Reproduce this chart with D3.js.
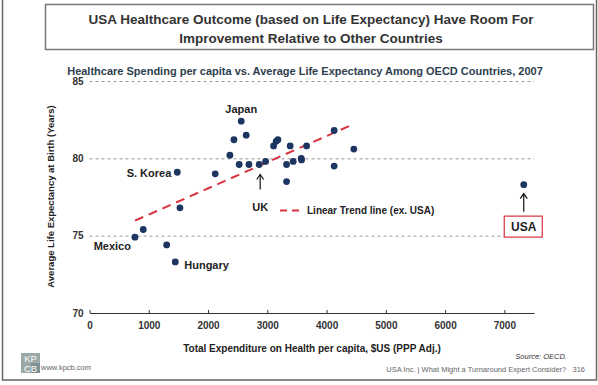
<!DOCTYPE html>
<html lang="en">
<head>
  <meta charset="utf-8">
  <title>USA Healthcare Outcome</title>
  <script src="https://cdn.jsdelivr.net/npm/d3@7"></script>
  <style>
    body { margin: 0; background: #fff; }
    svg { font-family: "Liberation Sans", Arial, sans-serif; }
  </style>
</head>
<body>
<script>
  // spending per capita ($US PPP) and life expectancy
  var spend = [2560, 2437, 2644, 2369, 2526, 2690, 2121, 2863, 2971, 3106, 3150, 3179, 3386, 3325,
               3325, 3437, 3572, 3578, 3663, 4128, 4128, 4460, 1481, 1526, 907, 767, 1302, 1447, 7327];
  var life = [82.4, 81.2, 81.5, 80.2, 79.6, 79.6, 79.0, 79.6, 79.8, 80.8, 81.1, 81.2, 80.8, 79.6,
              78.5, 79.8, 80.0, 79.9, 80.8, 81.8, 79.5, 80.6, 79.1, 76.8, 75.4, 74.9, 74.4, 73.3, 78.3];
  var country = ["Japan", "", "", "", "", "", "", "UK", "", "", "", "", "", "",
                 "", "", "", "", "", "", "", "", "S. Korea", "", "", "Mexico", "", "Hungary", "USA"];

  // trend line ex. USA (two end points)
  var trendX = [767, 4460];
  var trendY = [75.97, 82.22];

  var xTicks = [0, 1000, 2000, 3000, 4000, 5000, 6000, 7000];
  var yTicks = [70, 75, 80, 85];

  var w = 598, h = 385;

  var svg = d3.select("body").append("svg")
    .attr("width", w)
    .attr("height", h);

  // slide frame
  svg.append("rect")
    .attr("x", 2.5).attr("y", -2)
    .attr("width", 594).attr("height", 382)
    .attr("fill", "none")
    .attr("stroke", "#666")
    .attr("stroke-width", 1.5);

  // title box
  svg.append("rect")
    .attr("x", 45.5).attr("y", 4.5)
    .attr("width", 548).attr("height", 45)
    .attr("fill", "#fff")
    .attr("stroke", "#777")
    .attr("stroke-width", 1.5);

  var title = ["USA Healthcare Outcome (based on Life Expectancy) Have Room For",
               "Improvement Relative to Other Countries"];
  svg.selectAll(".title").data(title).enter().append("text")
    .attr("x", 311)
    .attr("y", function(d, i) { return 24 + i * 19; })
    .attr("text-anchor", "middle")
    .attr("font-size", 13.5)
    .attr("font-weight", "bold")
    .attr("fill", "#333")
    .text(function(d) { return d; });

  svg.append("text")
    .attr("x", 305).attr("y", 75)
    .attr("text-anchor", "middle")
    .attr("font-size", 11)
    .attr("font-weight", "bold")
    .attr("fill", "#2d3e4e")
    .text("Healthcare Spending per capita vs. Average Life Expectancy Among OECD Countries, 2007");

  var x = d3.scaleLinear().domain([0, 7500]).range([89.5, 534]);
  var y = d3.scaleLinear().domain([70, 85]).range([313, 81]);

  // y axis: labels plus dashed grid lines
  var yAxis = svg.append("g")
    .attr("transform", "translate(" + x(0) + ",0)")
    .call(d3.axisLeft(y).tickValues(yTicks).tickSize(-(x(7500) - x(0))).tickPadding(6));
  yAxis.select(".domain").remove();
  yAxis.selectAll(".tick line")
    .attr("stroke", "#999")
    .attr("stroke-dasharray", "3,3")
    .filter(function(d) { return d === 70; }).remove();
  yAxis.selectAll(".tick text")
    .attr("font-size", 10)
    .attr("font-weight", "bold")
    .attr("fill", "#333")
    .attr("font-family", "Liberation Sans, Arial, sans-serif");

  // x axis
  var xAxis = svg.append("g")
    .attr("transform", "translate(0," + y(70) + ")")
    .call(d3.axisBottom(x).tickValues(xTicks).tickFormat(d3.format("d"))
      .tickSizeInner(-3).tickSizeOuter(0).tickPadding(9));
  xAxis.select(".domain").attr("stroke", "#333");
  xAxis.selectAll(".tick line").attr("stroke", "#333");
  xAxis.selectAll(".tick text")
    .attr("font-size", 10)
    .attr("font-weight", "bold")
    .attr("fill", "#333")
    .attr("font-family", "Liberation Sans, Arial, sans-serif");

  // axis titles
  svg.append("text")
    .attr("x", 312).attr("y", 352)
    .attr("text-anchor", "middle")
    .attr("font-size", 10)
    .attr("font-weight", "bold")
    .attr("fill", "#222")
    .text("Total Expenditure on Health per capita, $US (PPP Adj.)");

  svg.append("text")
    .attr("transform", "translate(54,196.5) rotate(-90)")
    .attr("text-anchor", "middle")
    .attr("font-size", 9.5)
    .attr("font-weight", "bold")
    .attr("fill", "#222")
    .text("Average Life Expectancy at Birth (Years)");

  // trend line
  svg.append("line")
    .attr("x1", x(trendX[0])).attr("y1", y(trendY[0]))
    .attr("x2", x(trendX[1])).attr("y2", y(trendY[1]))
    .attr("stroke", "#d8323e")
    .attr("stroke-width", 2)
    .attr("stroke-dasharray", "9,6");

  // dots
  svg.selectAll(".dot").data(spend).enter().append("circle")
    .attr("cx", function(d) { return x(d); })
    .attr("cy", function(d, i) { return y(life[i]); })
    .attr("r", 3.4)
    .attr("fill", "#1d3561");

  // country labels: offsets from each dot
  var labelPos = {
    "Japan":    {dx: 0,  dy: -8,  anchor: "middle"},
    "S. Korea": {dx: -6, dy: 5,   anchor: "end"},
    "Mexico":   {dx: -4, dy: 13,  anchor: "end"},
    "Hungary":  {dx: 9,  dy: 7,   anchor: "start"},
    "UK":       {dx: 1,  dy: 46,  anchor: "middle"}
  };
  country.forEach(function(c, i) {
    var p = labelPos[c];
    if (!p) return;
    svg.append("text")
      .attr("x", x(spend[i]) + p.dx)
      .attr("y", y(life[i]) + p.dy)
      .attr("text-anchor", p.anchor)
      .attr("font-size", 11)
      .attr("font-weight", "bold")
      .attr("fill", "#222")
      .text(c);
  });

  function arrow(x0, yBottom, yTip) {
    svg.append("line")
      .attr("x1", x0).attr("y1", yBottom).attr("x2", x0).attr("y2", yTip)
      .attr("stroke", "#111").attr("stroke-width", 1.2);
    svg.append("path")
      .attr("d", "M" + (x0 - 3.5) + "," + (yTip + 5) + "L" + x0 + "," + yTip + "L" + (x0 + 3.5) + "," + (yTip + 5))
      .attr("fill", "none").attr("stroke", "#111").attr("stroke-width", 1.2);
  }

  var uk = country.indexOf("UK");
  arrow(x(spend[uk]) + 1, y(life[uk]) + 25, y(life[uk]) + 10);

  // USA callout
  var usa = country.indexOf("USA");
  var ux = x(spend[usa]), uy = y(life[usa]);
  arrow(ux, uy + 27, uy + 9);
  svg.append("rect")
    .attr("x", ux - 19.5).attr("y", uy + 31.5)
    .attr("width", 38).attr("height", 21)
    .attr("fill", "#fff")
    .attr("stroke", "#d8323e")
    .attr("stroke-width", 1.2);
  svg.append("text")
    .attr("x", ux).attr("y", uy + 46.5)
    .attr("text-anchor", "middle")
    .attr("font-size", 12)
    .attr("font-weight", "bold")
    .attr("fill", "#222")
    .text("USA");

  // legend
  svg.append("line")
    .attr("x1", 280).attr("y1", 210.5).attr("x2", 301).attr("y2", 210.5)
    .attr("stroke", "#d8323e").attr("stroke-width", 2)
    .attr("stroke-dasharray", "7,5");
  svg.append("text")
    .attr("x", 307).attr("y", 214)
    .attr("font-size", 10)
    .attr("font-weight", "bold")
    .attr("fill", "#222")
    .text("Linear Trend line (ex. USA)");

  // footer
  var logo = svg.append("g").attr("transform", "translate(21,353)");
  logo.append("rect").attr("width", 19).attr("height", 20).attr("fill", "#9aa9a7");
  logo.append("rect").attr("x", 10).attr("y", 10).attr("width", 9).attr("height", 10).attr("fill", "#7f9190");
  logo.append("text").attr("x", 9.5).attr("y", 9).attr("text-anchor", "middle")
    .attr("font-size", 9.5).attr("fill", "#fff").text("KP");
  logo.append("text").attr("x", 9.5).attr("y", 19).attr("text-anchor", "middle")
    .attr("font-size", 9.5).attr("fill", "#fff").text("CB");

  svg.append("text")
    .attr("x", 41).attr("y", 370)
    .attr("font-size", 7.5)
    .attr("fill", "#666")
    .text("www.kpcb.com");

  svg.append("text")
    .attr("x", 567).attr("y", 359)
    .attr("text-anchor", "end")
    .attr("font-size", 7.5)
    .attr("font-style", "italic")
    .attr("fill", "#333")
    .text("Source: OECD.");

  svg.append("text")
    .attr("x", 585).attr("y", 372)
    .attr("text-anchor", "end")
    .attr("font-size", 7.5)
    .attr("fill", "#666")
    .attr("xml:space", "preserve")
    .text("USA Inc. | What Might a Turnaround Expert Consider?   316");
</script>
</body>
</html>
